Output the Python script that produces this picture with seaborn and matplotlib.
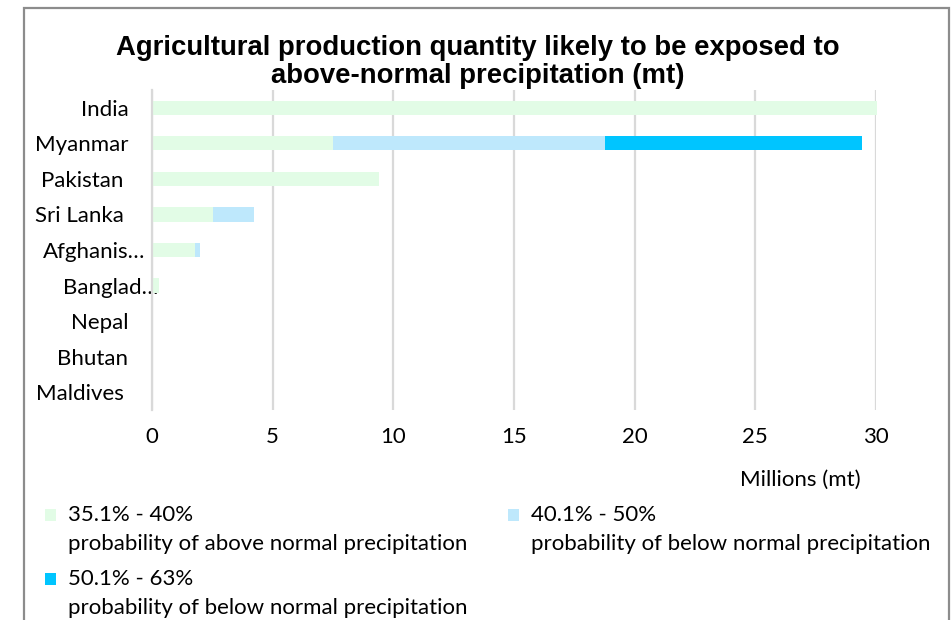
import matplotlib
matplotlib.use("Agg")
import matplotlib.pyplot as plt
from matplotlib.patches import Rectangle
from matplotlib.transforms import ScaledTranslation
import seaborn as sns
import pandas as pd
import numpy as np

# Exposed production (millions of metric tonnes) by probability band
countries = ["India", "Myanmar", "Pakistan", "Sri Lanka", "Afghanistan",
             "Bangladesh", "Nepal", "Bhutan", "Maldives"]
tick_labels = ["India", "Myanmar", "Pakistan", "Sri Lanka", "Afghanis\u2026",
               "Banglad\u2026", "Nepal", "Bhutan", "Maldives"]
above_35_40 = [30.05, 7.5, 9.4, 2.53, 1.78, 0.3, 0.0, 0.0, 0.0]
below_40_50 = [0.0, 11.27, 0.0, 1.7, 0.2, 0.0, 0.0, 0.0, 0.0]
below_50_63 = [0.0, 10.65, 0.0, 0.0, 0.0, 0.0, 0.0, 0.0, 0.0]

series_names = ["35.1% - 40%", "40.1% - 50%", "50.1% - 63%"]
series_notes = ["probability of above normal precipitation",
                "probability of below normal precipitation",
                "probability of below normal precipitation"]
colors = ["#E2FCE6", "#BEE8FC", "#00C5FF"]

df = pd.DataFrame({"country": countries, "a": above_35_40,
                   "b": below_40_50, "c": below_50_63})
df["cum_a"] = df["a"]
df["cum_b"] = df["a"] + df["b"]
df["cum_c"] = df["a"] + df["b"] + df["c"]

sns.set_theme(style="white")
plt.rcParams["font.family"] = ["Lato", "DejaVu Sans"]
plt.rcParams["text.color"] = "black"
FS = 16

fig = plt.figure(figsize=(9.52, 6.2), dpi=100)
ax = fig.add_axes([152 / 952, 1 - 410 / 620, (876 - 152) / 952, (410 - 90) / 620])

# Stacked bars: draw cumulative totals from the outermost segment inward
for col, color in zip(["cum_c", "cum_b", "cum_a"], colors[::-1]):
    sns.barplot(data=df, x=col, y="country", order=countries, color=color,
                width=0.4, saturation=1, orient="h", ax=ax, linewidth=0)
for p in ax.patches:
    p.set_clip_on(False)

ax.set_xlim(0, 30)
ax.set_xticks(np.arange(0, 31, 5))
ax.set_xlabel("")
ax.set_ylabel("")
ax.xaxis.grid(True, color="#D9D9D9", linewidth=1.6)
ax.set_axisbelow(True)
for s in ["top", "right", "bottom"]:
    ax.spines[s].set_visible(False)
ax.spines["left"].set_color("#D9D9D9")
ax.spines["left"].set_linewidth(1.6)
ax.tick_params(axis="both", length=0, labelsize=FS, colors="#000000")
ax.tick_params(axis="x", pad=12)
ax.set_yticks(range(len(countries)))
ax.set_yticklabels(tick_labels)

# Label placement (truncated labels sit further right)
offsets = {"Afghanis\u2026": 17, "Banglad\u2026": 30, "Pakistan": -5,
           "Sri Lanka": -5, "Maldives": -5}
ax.tick_params(axis="y", pad=17)
for lab in ax.get_yticklabels():
    dx = offsets.get(lab.get_text(), 0)
    if dx:
        lab.set_transform(lab.get_transform() + ScaledTranslation(dx / 100, 0, fig.dpi_scale_trans))

fig.text(800 / 952, 1 - 480 / 620, "Millions (mt)", ha="center", va="center",
         fontsize=FS)

fig.text(478 / 952, 1 - 62 / 620,
         "Agricultural production quantity likely to be exposed to\nabove-normal precipitation (mt)",
         ha="center", va="center", fontsize=19.8, fontweight="bold",
         family=["Liberation Sans", "DejaVu Sans"], linespacing=1.12)

# Legend entries
legend_pos = [(50, 515), (513, 515), (50, 579)]
for (x, y), name, note, color in zip(legend_pos, series_names, series_notes, colors):
    fig.add_artist(Rectangle(((x - 5) / 952, 1 - (y + 6) / 620), 11 / 952, 12 / 620,
                             transform=fig.transFigure, facecolor=color,
                             edgecolor="none"))
    fig.text((x + 18) / 952, 1 - y / 620, name, ha="left", va="center", fontsize=FS)
    fig.text((x + 18) / 952, 1 - (y + 29) / 620, note, ha="left", va="center",
             fontsize=FS)

# Chart frame
fig.add_artist(Rectangle((24 / 952, -0.05), (949 - 24) / 952, 1.05 - 8 / 620,
                         transform=fig.transFigure, fill=False,
                         edgecolor="#8C8C8C", linewidth=1.6))

fig.savefig("out.png", dpi=100)
